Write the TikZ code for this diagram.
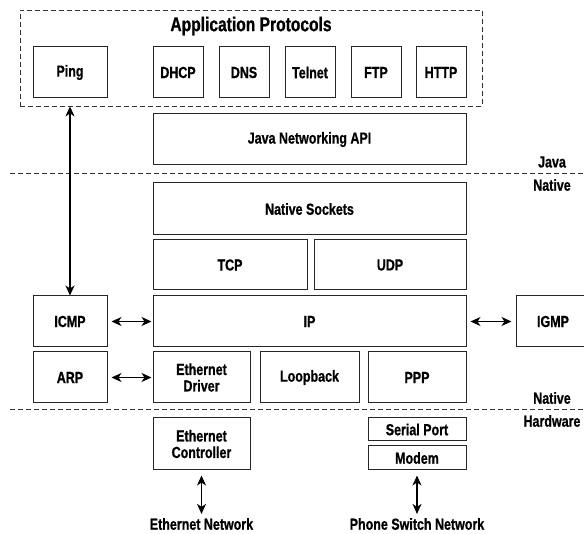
\documentclass[tikz,border=0pt]{standalone}
\usepackage{fontspec}
\setmainfont[FakeStretch=0.78,BoldFont={Liberation Sans Bold},BoldFeatures={FakeStretch=0.78,FakeBold=0.8}]{Liberation Sans}
\usetikzlibrary{arrows.meta}
\tikzset{
  box/.style={draw=black!85, line width=1pt, inner sep=1pt, align=center,
    font=\fontsize{16}{16.5}\selectfont\bfseries},
  lbl/.style={inner sep=0pt, align=center, font=\fontsize{16}{16.5}\selectfont\bfseries},
  tip/.tip={Stealth[length=10pt,width=9pt,inset=3pt]},
  link/.style={line width=1.2pt, tip-tip},
  sep/.style={line width=0.8pt, dash pattern=on 5pt off 3pt, black!80},
}
\newcommand{\bx}[6]{\node[box, minimum width=#3pt, minimum height=#4pt] (#1) at (#2) {#6};}
\begin{document}
\begin{tikzpicture}[x=1pt,y=-1pt]
\clip (0,0) rectangle (584,534);
\fill[white] (0,0) rectangle (584,534);

% application layer group
\node[draw=black!80, line width=0.8pt, dash pattern=on 5pt off 3pt,
  minimum width=462pt, minimum height=96pt, inner sep=0pt] (apps) at (251,58) {};
\node[lbl, font=\fontsize{20}{21}\selectfont\bfseries] (apptitle) at (251,26) {Application Protocols};

\bx{ping}{70,72.5}{74}{51}{}{Ping}
\bx{dhcp}{178,72.5}{50}{51}{}{DHCP}
\bx{dns}{244,72.5}{50}{51}{}{DNS}
\bx{telnet}{310,72.5}{50}{51}{}{Telnet}
\bx{ftp}{376,72.5}{50}{51}{}{FTP}
\bx{http}{441,72.5}{50}{51}{}{HTTP}

\bx{japi}{309.5,139.5}{313}{51}{}{Java Networking API}

% Java / Native boundary
\coordinate (s1a) at (10,173);
\coordinate (s1b) at (584,173);
\draw[sep] (s1a) -- (s1b);
\node[lbl] (java) at (552,162) {Java};
\node[lbl] (native1) at (552,185) {Native};

\bx{nsock}{309.5,209}{313}{52}{}{Native Sockets}
\bx{tcp}{230,265}{154}{50}{}{TCP}
\bx{udp}{390,265}{152}{50}{}{UDP}

\bx{icmp}{70,321.5}{74}{51}{}{ICMP}
\bx{ip}{309.5,321.5}{313}{51}{}{IP}
\bx{igmp}{553,321.5}{74}{51}{}{IGMP}

\bx{arp}{70,377.5}{74}{51}{}{ARP}
\bx{ethdrv}{201.5,377.5}{97}{51}{}{Ethernet\\Driver}
\bx{loop}{309.5,377.5}{99}{51}{}{Loopback}
\bx{ppp}{417,377.5}{98}{51}{}{PPP}

% Native / Hardware boundary
\coordinate (s2a) at (10,409);
\coordinate (s2b) at (584,409);
\draw[sep] (s2a) -- (s2b);
\node[lbl] (native2) at (552,398) {Native};
\node[lbl] (hw) at (552,421) {Hardware};

\bx{ethctl}{201.5,444}{97}{52}{}{Ethernet\\Controller}
\bx{serial}{417,429.5}{98}{23}{}{Serial Port}
\bx{modem}{417,458}{98}{24}{}{Modem}

\node[lbl] (ethnet) at (201.5,524) {Ethernet Network};
\node[lbl] (phonenet) at (417,524) {Phone Switch Network};

% connectors
\draw[link] (icmp.north) -- (icmp.north |- apps.south);
\draw[link, shorten <=4pt, shorten >=1pt] (icmp.east) -- (ip.west);
\draw[link, shorten <=4pt, shorten >=4pt] (ip.east) -- (igmp.west);
\draw[link, shorten <=4pt, shorten >=1pt] (arp.east) -- (ethdrv.west);
\draw[link, shorten <=5pt, shorten >=4pt] (ethctl.south) -- (ethnet.north);
\draw[link, shorten <=5pt, shorten >=4pt] (modem.south) -- (phonenet.north);
\end{tikzpicture}
\end{document}
